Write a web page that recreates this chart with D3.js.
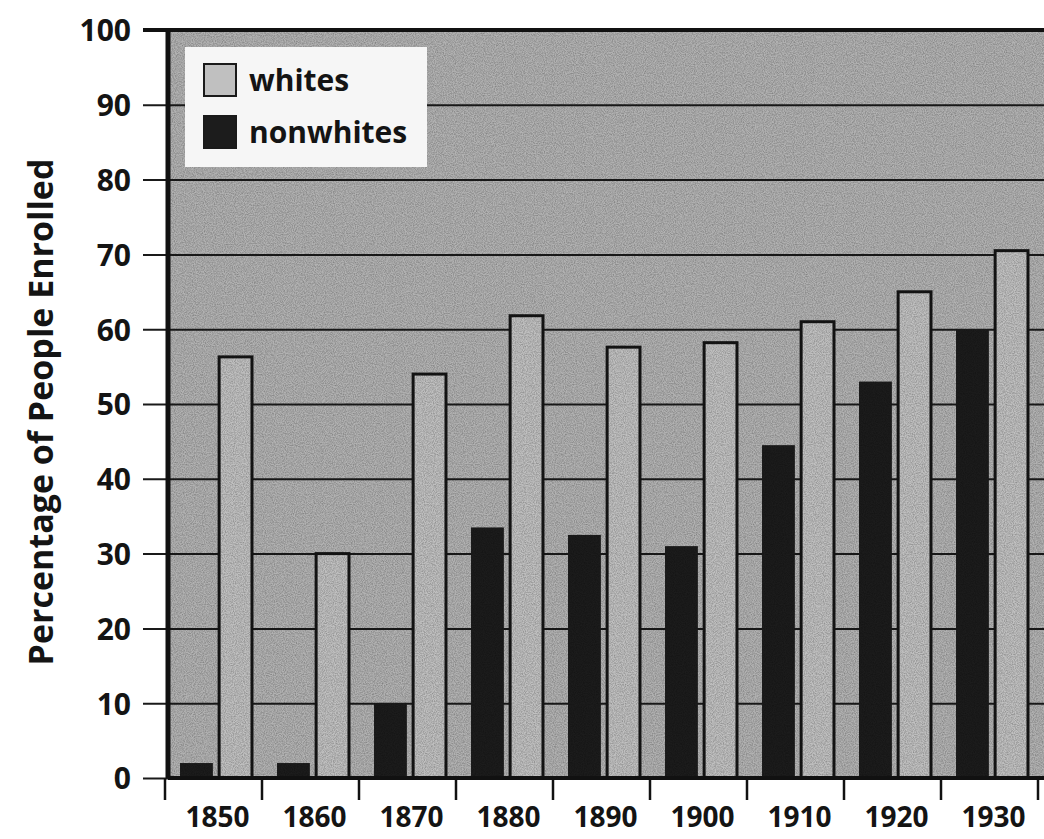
<!DOCTYPE html>
<html>
<head>
<meta charset="utf-8">
<script src="https://cdn.jsdelivr.net/npm/d3@7"></script>
<style>
  body { margin: 0; background: #fff; }
  text { font-family: "Open Sans", "DejaVu Sans", sans-serif; font-weight: 700; fill: #141414; }
</style>
</head>
<body>
<div id="chart"></div>
<script>
// data
var decades = ["1850", "1860", "1870", "1880", "1890", "1900", "1910", "1920", "1930"];
var seriesNames = ["nonwhites", "whites"];
var nonwhites = [2, 2, 10, 33.5, 32.5, 31, 44.5, 53, 60];
var whites = [56.3, 30, 54, 61.8, 57.6, 58.2, 61, 65, 70.5];
var yTicks = [0, 10, 20, 30, 40, 50, 60, 70, 80, 90, 100];

var width = 1044;
var height = 839;

var plotLeft = 168;
var plotTop = 30;
var plotBottom = 778;

var svg = d3.select("#chart")
    .append("svg")
    .attr("width", width)
    .attr("height", height);

// grainy texture, like the printed halftone
var defs = svg.append("defs");
var grain = defs.append("filter")
    .attr("id", "grain")
    .attr("x", 0).attr("y", 0).attr("width", "100%").attr("height", "100%");
grain.append("feTurbulence")
    .attr("type", "fractalNoise")
    .attr("baseFrequency", 0.9)
    .attr("numOctaves", 2)
    .attr("seed", 3)
    .attr("result", "noise");
grain.append("feColorMatrix")
    .attr("in", "noise")
    .attr("type", "matrix")
    .attr("values", "0 0 0 0 0  0 0 0 0 0  0 0 0 0 0  0 0 0 -1.6 1.1")
    .attr("result", "dots");
grain.append("feComposite")
    .attr("in", "dots")
    .attr("in2", "SourceGraphic")
    .attr("operator", "in");

var y = d3.scaleLinear()
    .domain([0, 100])
    .range([plotBottom, plotTop]);

var x0 = d3.scaleBand()
    .domain(decades)
    .range([165, 165 + 97 * decades.length])
    .padding(0);

var x1 = d3.scaleBand()
    .domain(seriesNames)
    .range([0, x0.bandwidth()])
    .paddingInner(0.16)
    .paddingOuter(0.32)
    .align(0.6);

var color = { nonwhites: "#1c1c1c", whites: "#c0c0c0" };

// plot background
svg.append("rect")
    .attr("x", plotLeft)
    .attr("y", plotTop)
    .attr("width", width - plotLeft)
    .attr("height", plotBottom - plotTop)
    .attr("fill", "#b2b2b2");

// gridlines + left ticks
var leftAxis = d3.axisLeft(y)
    .tickValues(yTicks)
    .tickSize(-(width - 143))
    .tickPadding(12)
    .tickFormat(d3.format("d"));

var yAxis = svg.append("g")
    .attr("transform", "translate(143,0)")
    .call(leftAxis);
yAxis.select(".domain").remove();
yAxis.selectAll("line")
    .attr("stroke", "#1a1a1a")
    .attr("stroke-width", 2);
yAxis.selectAll("text")
    .attr("font-size", 30)
    .attr("dy", "0.36em");

// bars
var rows = decades.map(function(d, i) {
  return { decade: d, values: [
    { key: "nonwhites", value: nonwhites[i] },
    { key: "whites", value: whites[i] }
  ] };
});

var groups = svg.selectAll("g.decade")
    .data(rows)
    .enter()
    .append("g")
    .attr("class", "decade")
    .attr("transform", d => "translate(" + x0(d.decade) + ",0)");

groups.selectAll("rect")
    .data(d => d.values)
    .enter()
    .append("rect")
    .attr("x", d => x1(d.key))
    .attr("y", d => y(d.value))
    .attr("width", x1.bandwidth())
    .attr("height", d => y(0) - y(d.value))
    .attr("fill", d => color[d.key])
    .attr("stroke", d => d.key === "whites" ? "#151515" : "none")
    .attr("stroke-width", 3);

// grain over the plot and the bars
svg.append("rect")
    .attr("x", plotLeft)
    .attr("y", plotTop)
    .attr("width", width - plotLeft)
    .attr("height", plotBottom - plotTop)
    .attr("fill", "#3a3a3a")
    .attr("opacity", 0.28)
    .attr("filter", "url(#grain)");

// legend box
var legend = svg.append("g");
legend.append("rect")
    .attr("x", 185)
    .attr("y", 47)
    .attr("width", 242)
    .attr("height", 120)
    .attr("fill", "#f6f6f6");

var legendItems = [
  { name: "whites", ty: 64 },
  { name: "nonwhites", ty: 116 }
];
legend.selectAll("rect.sw")
    .data(legendItems)
    .enter()
    .append("rect")
    .attr("class", "sw")
    .attr("x", 204)
    .attr("y", d => d.ty)
    .attr("width", 32)
    .attr("height", 32)
    .attr("fill", d => color[d.name])
    .attr("stroke", "#1a1a1a")
    .attr("stroke-width", 2);
legend.selectAll("text")
    .data(legendItems)
    .enter()
    .append("text")
    .attr("x", 249)
    .attr("y", d => d.ty + 27)
    .attr("font-size", 30)
    .attr("font-weight", 600)
    .text(d => d.name);

// frame: top border, left axis line, baseline
svg.append("line")
    .attr("x1", 143).attr("x2", width)
    .attr("y1", plotTop).attr("y2", plotTop)
    .attr("stroke", "#111").attr("stroke-width", 4);
svg.append("line")
    .attr("x1", plotLeft).attr("x2", plotLeft)
    .attr("y1", plotTop).attr("y2", plotBottom)
    .attr("stroke", "#111").attr("stroke-width", 5);
svg.append("line")
    .attr("x1", plotLeft).attr("x2", width)
    .attr("y1", plotBottom).attr("y2", plotBottom)
    .attr("stroke", "#111").attr("stroke-width", 4);

// bottom ticks at band edges and decade labels
var edges = decades.map(d => x0(d)).concat([x0.range()[1]]);
svg.selectAll("line.xtick")
    .data(edges)
    .enter()
    .append("line")
    .attr("class", "xtick")
    .attr("x1", d => d).attr("x2", d => d)
    .attr("y1", plotBottom).attr("y2", 800)
    .attr("stroke", "#111").attr("stroke-width", 2.5);

svg.selectAll("text.xlab")
    .data(decades)
    .enter()
    .append("text")
    .attr("class", "xlab")
    .attr("x", d => x0(d) + x0.bandwidth() / 2 + 4)
    .attr("y", 827)
    .attr("text-anchor", "middle")
    .attr("font-size", 28)
    .text(d => d);

// y title
svg.append("text")
    .attr("transform", "translate(53,412) rotate(-90)")
    .attr("text-anchor", "middle")
    .attr("font-size", 34)
    .attr("font-weight", 600)
    .text("Percentage of People Enrolled");
</script>
</body>
</html>
